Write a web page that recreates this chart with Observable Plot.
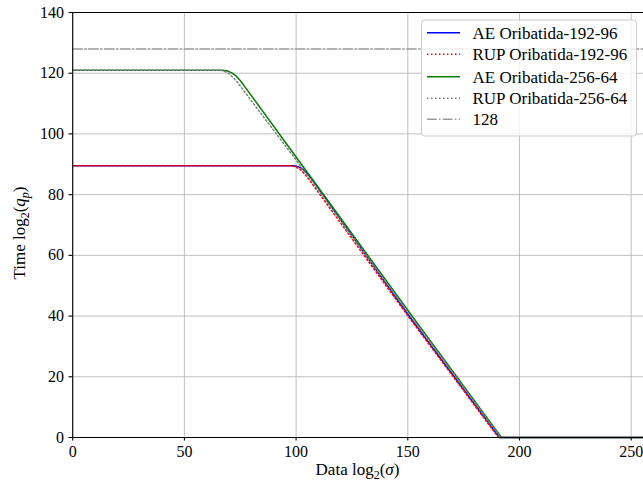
<!DOCTYPE html>
<html><head><meta charset="utf-8">
<script src="https://cdn.jsdelivr.net/npm/d3@7"></script>
<script src="https://cdn.jsdelivr.net/npm/@observablehq/plot@0.6"></script>
<style>
body{margin:0;background:#fff}
#chart{width:643px;height:482px;overflow:hidden}
</style>
</head><body><div id="chart"></div>
<script>
const seriesNames = ["AE Oribatida-192-96","RUP Oribatida-192-96","AE Oribatida-256-64","RUP Oribatida-256-64","128"];
const xTicks = [0,50,100,150,200,250];
const yTicks = [0,20,40,60,80,100,120,140];

const ae192X = [0, 99, 101, 103, 105, 107, 150, 191.0, 256];
const ae192Y = [89.5, 89.5, 89.2, 88.4, 87.0, 85.2, 40.6, 0, 0];
const rup192X = [0, 98, 100, 102, 104, 106, 150, 190.6, 256];
const rup192Y = [89.5, 89.5, 89.1, 88.2, 86.7, 84.8, 40.1, 0, 0];
const ae256X = [0, 67, 69, 71, 73, 75, 77, 100, 150, 191.9, 256];
const ae256Y = [121, 121, 120.8, 120.2, 119.2, 117.6, 115.6, 92.4, 41.9, 0, 0];
const rup256X = [0, 66, 68, 70, 72, 74, 76, 100, 150, 191.5, 256];
const rup256Y = [121, 121, 120.6, 119.8, 118.4, 116.8, 114.8, 91.4, 41.3, 0, 0];
const refX = [0, 256];
const refY = [128, 128];

const colors = ["#0000ff", "#ff0000", "#008000", "#808080", "#999999"];
const dashes = [null, "1.5,2.5", null, "1.5,2.5", "9.6,2.4,1.5,2.4"];

const seriesData = [
  [ae192X, ae192Y], [rup192X, rup192Y], [ae256X, ae256Y], [rup256X, rup256Y], [refX, refY]
].map(([xs, ys], i) => xs.map((x, j) => ({x, y: ys[j], s: seriesNames[i]})));

const font = "'Liberation Serif', 'DejaVu Serif', serif";

const plot = Plot.plot({
  width: 643,
  height: 482,
  marginLeft: 72,
  marginRight: 0,
  marginTop: 12,
  marginBottom: 45,
  style: {fontFamily: font, fontSize: "16px", color: "black", background: "white", overflow: "hidden"},
  x: {domain: [0, 256], range: [72.2, 644.1]},
  y: {domain: [0, 140], range: [437, 12]},
  marks: [
    Plot.gridX(xTicks, {stroke: "#b0b0b0", strokeOpacity: 1, strokeWidth: 0.8}),
    Plot.gridY(yTicks, {stroke: "#b0b0b0", strokeOpacity: 1, strokeWidth: 0.8}),
    ...seriesData.map((d, i) => Plot.line(d, {
      x: "x", y: "y", stroke: colors[i], strokeWidth: 1.5,
      strokeDasharray: dashes[i] || undefined, curve: "linear"
    })),
    Plot.ruleY([0], {stroke: "black", strokeWidth: 1.1}),
    Plot.ruleY([140], {stroke: "black", strokeWidth: 1.1}),
    Plot.ruleX([0], {stroke: "black", strokeWidth: 1.1}),
    Plot.axisX({ticks: xTicks, tickSize: 3.5, tickPadding: 5, fontSize: 16, label: null, stroke: "black", strokeWidth: 1.1}),
    Plot.axisY({ticks: yTicks, tickSize: 3.5, tickPadding: 5, fontSize: 16, label: null, stroke: "black", strokeWidth: 1.1})
  ]
});

document.getElementById("chart").appendChild(plot);

const svg = d3.select(plot);

// axis labels
const xl = svg.append("text").attr("x", 357.5).attr("y", 475).attr("text-anchor", "middle")
  .attr("font-family", font).attr("font-size", 17).attr("fill", "black");
xl.append("tspan").text("Data log");
xl.append("tspan").attr("font-size", 12).attr("dy", 4).text("2");
xl.append("tspan").attr("dy", -4).text("(");
xl.append("tspan").attr("font-style", "italic").text("σ");
xl.append("tspan").text(")");

const yl = svg.append("text").attr("transform", "translate(25,233) rotate(-90)").attr("text-anchor", "middle")
  .attr("font-family", font).attr("font-size", 17).attr("fill", "black");
yl.append("tspan").text("Time log");
yl.append("tspan").attr("font-size", 12).attr("dy", 4).text("2");
yl.append("tspan").attr("dy", -4).text("(");
yl.append("tspan").attr("font-style", "italic").text("q");
yl.append("tspan").attr("font-style", "italic").attr("font-size", 12).attr("dy", 4).text("p");
yl.append("tspan").attr("dy", -4).text(")");

// legend
const lg = svg.append("g").attr("text-anchor", "start");
lg.append("rect").attr("x", 421.5).attr("y", 20).attr("width", 215).attr("height", 116)
  .attr("rx", 3).attr("fill", "white").attr("fill-opacity", 0.8).attr("stroke", "#cccccc").attr("stroke-width", 1);
const rowY = [32.7, 54.3, 76.7, 98.3, 119.3];
seriesNames.forEach((name, i) => {
  lg.append("line").attr("x1", 427).attr("x2", 460).attr("y1", rowY[i]).attr("y2", rowY[i])
    .attr("stroke", colors[i]).attr("stroke-width", 1.5)
    .attr("stroke-dasharray", dashes[i] || null);
  lg.append("text").attr("x", 472.5).attr("y", rowY[i]).attr("dy", "0.35em").attr("text-anchor", "start")
    .attr("font-family", font).attr("font-size", 17).attr("fill", "black").text(name);
});
</script>
</body></html>
